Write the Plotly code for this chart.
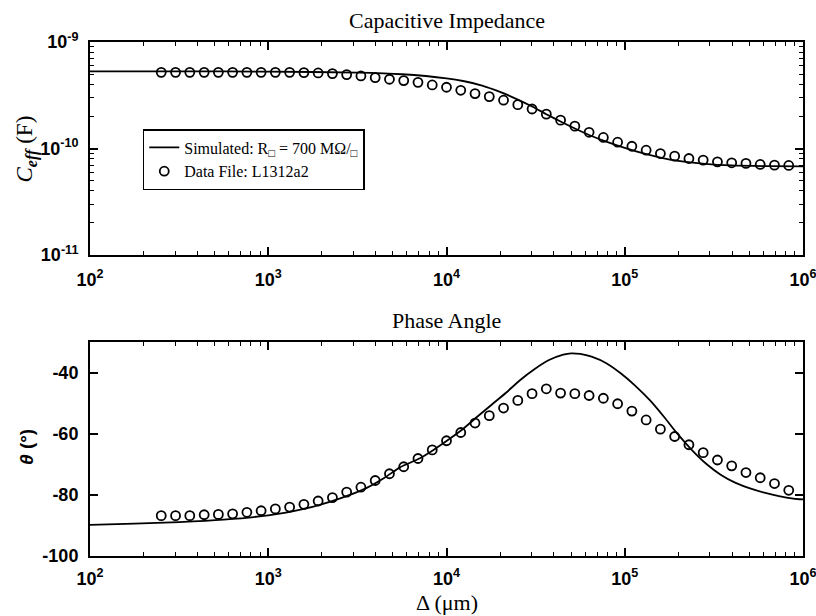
import plotly.graph_objects as go

# ---------------- data ----------------
data_x = [251, 302, 363, 437, 525, 631, 759, 912, 1096, 1318, 1585, 1905, 2291, 2754,
          3311, 3981, 4786, 5754, 6918, 8318, 10000, 12023, 14454, 17378, 20893, 25119,
          30200, 36308, 43652, 52481, 63096, 75858, 91201, 109648, 131826, 158489,
          190546, 229087, 275423, 331131, 398107, 478630, 575440, 691831, 831764]

data_c = [5.19e-10, 5.19e-10, 5.19e-10, 5.19e-10, 5.19e-10, 5.19e-10, 5.19e-10, 5.19e-10,
          5.19e-10, 5.19e-10, 5.16e-10, 5.12e-10, 5.05e-10, 4.94e-10, 4.80e-10, 4.63e-10,
          4.47e-10, 4.34e-10, 4.18e-10, 3.95e-10, 3.76e-10, 3.52e-10, 3.28e-10, 3.07e-10,
          2.84e-10, 2.58e-10, 2.35e-10, 2.10e-10, 1.845e-10, 1.62e-10, 1.42e-10, 1.27e-10,
          1.146e-10, 1.05e-10, 9.64e-11, 8.97e-11, 8.47e-11, 8.06e-11, 7.78e-11, 7.50e-11,
          7.34e-11, 7.24e-11, 7.08e-11, 6.98e-11, 6.93e-11]

data_theta = [-86.8, -86.8, -86.8, -86.5, -86.4, -86.2, -85.7, -85.2, -84.6, -84.0, -83.1,
              -82.0, -80.9, -79.1, -77.5, -75.3, -73.1, -70.8, -68.1, -65.3, -62.3, -59.6,
              -56.5, -54.1, -51.6, -49.1, -46.9, -45.3, -46.7, -46.9, -47.5, -48.4, -50.2,
              -52.6, -55.5, -58.5, -60.9, -63.6, -66.2, -68.6, -70.5, -72.7, -74.4, -76.3,
              -78.5]

sim_c_x = [100, 316, 1000, 3162, 5623, 10000, 12589, 15849, 19953, 25119, 30200, 36308,
           43652, 52481, 63096, 79433, 100000, 125893, 158489, 199526, 281838, 398107,
           630957, 1000000]
sim_c = [5.31e-10, 5.31e-10, 5.27e-10, 5.16e-10, 4.98e-10, 4.56e-10, 4.28e-10, 3.90e-10,
         3.40e-10, 2.88e-10, 2.48e-10, 2.10e-10, 1.79e-10, 1.54e-10, 1.34e-10, 1.155e-10,
         1.014e-10, 9.04e-11, 8.23e-11, 7.66e-11, 7.18e-11, 6.93e-11, 6.83e-11, 6.78e-11]

sim_theta_x = [100, 177.8, 316.2, 562.3, 1000, 1585, 2512, 3548, 4467, 5483, 7047, 8453,
               10233, 12162, 14757, 17906, 21577, 25823, 31117, 37584, 45186, 50119, 56234,
               65163, 79250, 95280, 115080, 138676, 166725, 199986, 240436, 288403, 346737,
               415911, 504661, 606736, 732825, 883079, 1000000]
sim_theta = [-89.8, -89.4, -88.9, -88.1, -86.7, -84.6, -81.2, -77.8, -74.5, -71.0, -68.1,
             -65.3, -62.0, -58.8, -54.6, -50.5, -46.6, -42.5, -38.9, -35.9, -34.1, -33.7,
             -33.9, -34.8, -37.0, -40.3, -44.4, -49.1, -54.6, -60.4, -65.6, -70.0, -73.5,
             -76.0, -77.9, -79.3, -80.4, -81.2, -81.5]

x_tickvals = [100, 1000, 10000, 100000, 1000000]
x_ticktext = ["10<sup>2</sup>", "10<sup>3</sup>", "10<sup>4</sup>", "10<sup>5</sup>", "10<sup>6</sup>"]
c_tickvals = [1e-11, 1e-10, 1e-9]
c_ticktext = ["10<sup>-11</sup>", "10<sup>-10</sup>", "10<sup>-9</sup>"]
t_tickvals = [-100, -80, -60, -40]
t_ticktext = ["-100", "-80", "-60", "-40"]

# ---------------- figure ----------------
SERIF = "Liberation Serif, Times New Roman, serif"
SANS = "Liberation Sans, Arial, sans-serif"

fig = go.Figure()

fig.add_trace(go.Scatter(x=sim_c_x, y=sim_c, mode="lines", xaxis="x", yaxis="y",
                         line=dict(color="black", width=1.8, shape="spline", smoothing=0.6),
                         name="Simulated: R<sub>□</sub> = 700 MΩ/<sub>□</sub>"))
fig.add_trace(go.Scatter(x=data_x, y=data_c, mode="markers", xaxis="x", yaxis="y",
                         marker=dict(symbol="circle-open", size=9, color="black",
                                     line=dict(width=1.8, color="black")),
                         name="Data File: L1312a2"))
fig.add_trace(go.Scatter(x=sim_theta_x, y=sim_theta, mode="lines", xaxis="x2", yaxis="y2",
                         line=dict(color="black", width=1.8, shape="spline", smoothing=0.6),
                         showlegend=False))
fig.add_trace(go.Scatter(x=data_x, y=data_theta, mode="markers", xaxis="x2", yaxis="y2",
                         marker=dict(symbol="circle-open", size=9, color="black",
                                     line=dict(width=1.8, color="black")),
                         showlegend=False))

tickfont = dict(family=SANS, size=18, color="black", weight="bold")
common = dict(showline=True, linewidth=2, linecolor="black", mirror="ticks",
              ticks="inside", ticklen=8, tickwidth=1.5, tickcolor="black",
              showgrid=False, zeroline=False, tickfont=tickfont,
              ticklabeloverflow="allow", automargin=False)
minor_log = dict(ticks="inside", ticklen=4, tickwidth=1, tickcolor="black",
                 dtick="D1", showgrid=False)

fig.update_layout(
    width=816, height=616,
    margin=dict(l=90, r=13, t=42, b=60),
    paper_bgcolor="white", plot_bgcolor="white",
    xaxis=dict(type="log", range=[2, 6], domain=[0, 1], anchor="y",
               tickmode="array", tickvals=x_tickvals, ticktext=x_ticktext,
               ticklabelstandoff=7, minor=minor_log, **common),
    yaxis=dict(type="log", range=[-11, -9], domain=[0.5856, 1.0], anchor="x",
               tickmode="array", tickvals=c_tickvals, ticktext=c_ticktext,
               ticklabelstandoff=6, minor=minor_log, **common),
    xaxis2=dict(type="log", range=[2, 6], domain=[0, 1], anchor="y2",
                tickmode="array", tickvals=x_tickvals, ticktext=x_ticktext,
                ticklabelstandoff=5, minor=minor_log, **common),
    yaxis2=dict(range=[-100, -30], domain=[0, 0.4163], anchor="x2",
                tickmode="array", tickvals=t_tickvals, ticktext=t_ticktext,
                ticklabelstandoff=6, **common),
    showlegend=True,
    legend=dict(x=0.074, y=0.8307, xanchor="left", yanchor="top",
                bgcolor="white", bordercolor="black", borderwidth=1.5,
                font=dict(family=SERIF, size=16, color="black"),
                tracegroupgap=4),
    annotations=[
        dict(text="Capacitive Impedance", x=0.5, y=1.0428, xref="paper", yref="paper",
             showarrow=False, xanchor="center", yanchor="middle",
             font=dict(family=SERIF, size=22, color="black")),
        dict(text="Phase Angle", x=0.5, y=0.459, xref="paper", yref="paper",
             showarrow=False, xanchor="center", yanchor="middle",
             font=dict(family=SERIF, size=22, color="black")),
        dict(text="Δ (μm)", x=0.5, y=-0.0895, xref="paper", yref="paper",
             showarrow=False, xanchor="center", yanchor="middle",
             font=dict(family=SERIF, size=22, color="black")),
        dict(text="<i>C</i><sub><b><i>eff</i></b></sub> (F)", x=-0.0884, y=0.7928,
             xref="paper", yref="paper", showarrow=False, textangle=-90,
             xanchor="center", yanchor="middle",
             font=dict(family=SERIF, size=23, color="black")),
        dict(text="<b><i>θ</i> (°)</b>", x=-0.0884, y=0.2121,
             xref="paper", yref="paper", showarrow=False, textangle=-90,
             xanchor="center", yanchor="middle",
             font=dict(family=SANS, size=19, color="black")),
    ],
)

fig.write_html("out.html")
